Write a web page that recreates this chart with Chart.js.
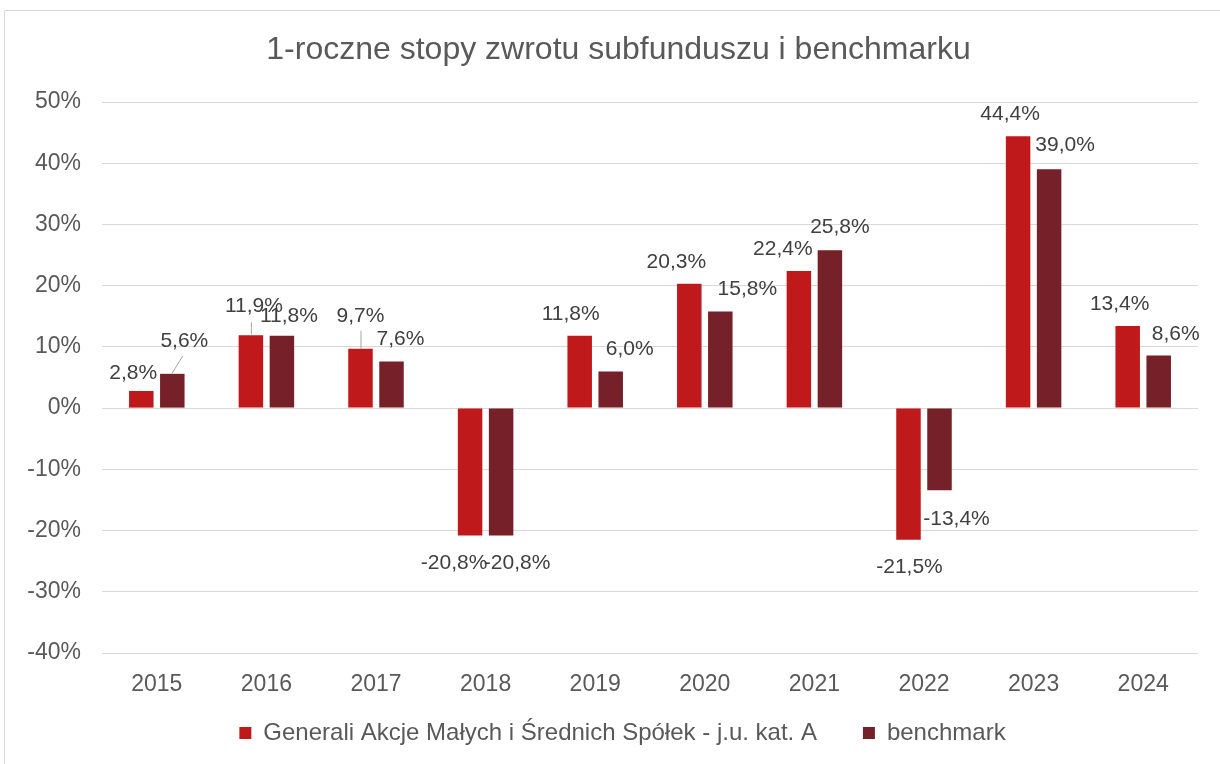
<!DOCTYPE html>
<html>
<head>
<meta charset="utf-8">
<script src="https://cdn.jsdelivr.net/npm/chart.js@4.4.1/dist/chart.umd.min.js"></script>
<style>
  html, body { margin: 0; padding: 0; background: #ffffff; }
  #wrap { position: relative; width: 1220px; height: 764px; }
</style>
</head>
<body>
<div id="wrap"><canvas id="c" width="1220" height="764"></canvas></div>
<script>
const categories = ['2015', '2016', '2017', '2018', '2019', '2020', '2021', '2022', '2023', '2024'];
const fundValues = [2.8, 11.9, 9.7, -20.8, 11.8, 20.3, 22.4, -21.5, 44.4, 13.4];
const benchmarkValues = [5.6, 11.8, 7.6, -20.8, 6.0, 15.8, 25.8, -13.4, 39.0, 8.6];
const seriesNames = ['Generali Akcje Małych i Średnich Spółek - j.u. kat. A', 'benchmark'];
const chartTitle = '1-roczne stopy zwrotu subfunduszu i benchmarku';
const yMin = -40, yMax = 50, yStep = 10;

const FONT = '"Liberation Sans", Arial, sans-serif';

function fmt(v) { return v.toFixed(1).replace('.', ',') + '%'; }

// label offsets (px) relative to bar tip, per dataset
const labelOffsets = [
  [[-8,-18],[3,-29],[0,-33],[-16,28],[-9,-22],[-13,-22],[-16,-22],[1,27],[-8,-22],[-8,-22]],
  [[12,-33],[7,-20],[9,-22],[16,28],[19,-22],[27,-22],[10,-23],[17,29],[16,-24],[17,-21]]
];
// leader lines: [dataset, index, x1,y1,x2,y2] relative to bar tip
const leaders = [
  [1, 0, -1, 0, 10, -18],
  [0, 1, 0, -1, 0, -13],
  [0, 2, 0, 0, 0, -18]
];

const framePlugin = {
  id: 'frame',
  beforeDraw(chart) {
    const ctx = chart.ctx;
    ctx.save();
    ctx.fillStyle = '#ffffff';
    ctx.fillRect(0, 0, chart.width, chart.height);
    ctx.strokeStyle = '#D9D9D9';
    ctx.lineWidth = 1;
    ctx.beginPath();
    ctx.moveTo(4.5, chart.height + 2);
    ctx.lineTo(4.5, 10.5);
    ctx.lineTo(chart.width + 2, 10.5);
    ctx.stroke();
    ctx.restore();
  },
  afterLayout(chart) {
    const lg = chart.legend;
    if (lg) {
      lg.top = 675;
      lg.bottom = 764;
      lg.height = 89;
      lg.left = 47;
      lg.right = 1198;
      lg.width = 1151;
    }
    const t = chart.titleBlock;
    if (t) { t.left = 39; t.right = 1198; t.width = 1159; }
  }
};

const labelPlugin = {
  id: 'barLabels',
  afterDatasetsDraw(chart) {
    const ctx = chart.ctx;
    ctx.save();
    ctx.strokeStyle = '#A6A6A6';
    ctx.lineWidth = 1;
    leaders.forEach(([d, i, x1, y1, x2, y2]) => {
      const el = chart.getDatasetMeta(d).data[i];
      ctx.beginPath();
      ctx.moveTo(el.x + x1 + 0.5, el.y + y1);
      ctx.lineTo(el.x + x2 + 0.5, el.y + y2);
      ctx.stroke();
    });
    ctx.font = '21px ' + FONT;
    ctx.fillStyle = '#404040';
    ctx.textAlign = 'center';
    ctx.textBaseline = 'middle';
    chart.data.datasets.forEach((ds, d) => {
      const meta = chart.getDatasetMeta(d);
      meta.data.forEach((el, i) => {
        const off = labelOffsets[d][i];
        ctx.fillText(fmt(ds.data[i]), el.x + off[0], el.y + off[1]);
      });
    });
    ctx.restore();
  }
};

new Chart(document.getElementById('c'), {
  type: 'bar',
  data: {
    labels: categories,
    datasets: [
      { label: seriesNames[0], data: fundValues, backgroundColor: '#C0191B', borderWidth: 0 },
      { label: seriesNames[1], data: benchmarkValues, backgroundColor: '#76202A', borderWidth: 0 }
    ]
  },
  options: {
    responsive: false,
    animation: false,
    devicePixelRatio: 1,
    layout: { padding: { left: 0, right: 22, top: 0, bottom: 0 } },
    datasets: { bar: { categoryPercentage: 0.566, barPercentage: 0.79 } },
    plugins: {
      title: {
        display: true,
        text: chartTitle,
        color: '#595959',
        font: { family: FONT, size: 32, weight: 'normal' },
        padding: { top: 30.8, bottom: 32.8 }
      },
      legend: {
        display: true,
        position: 'bottom',
        maxHeight: 61,
        labels: {
          boxWidth: 12,
          boxHeight: 12,
          padding: 46,
          color: '#595959',
          font: { family: FONT, size: 24 }
        }
      },
      tooltip: { enabled: false }
    },
    scales: {
      x: {
        grid: { display: false, drawTicks: false },
        border: { display: false },
        ticks: { color: '#595959', font: { family: FONT, size: 23 }, padding: 18 },
        afterFit(scale) { scale.height = 50; }
      },
      y: {
        min: yMin,
        max: yMax,
        grid: { color: '#D9D9D9', lineWidth: 1, drawTicks: false },
        border: { display: false },
        ticks: {
          stepSize: yStep,
          color: '#595959',
          font: { family: FONT, size: 23 },
          padding: 21,
          callback: (v) => v + '%'
        },
        afterFit(scale) { scale.width = 102; }
      }
    }
  },
  plugins: [framePlugin, labelPlugin]
});
</script>
</body>
</html>
